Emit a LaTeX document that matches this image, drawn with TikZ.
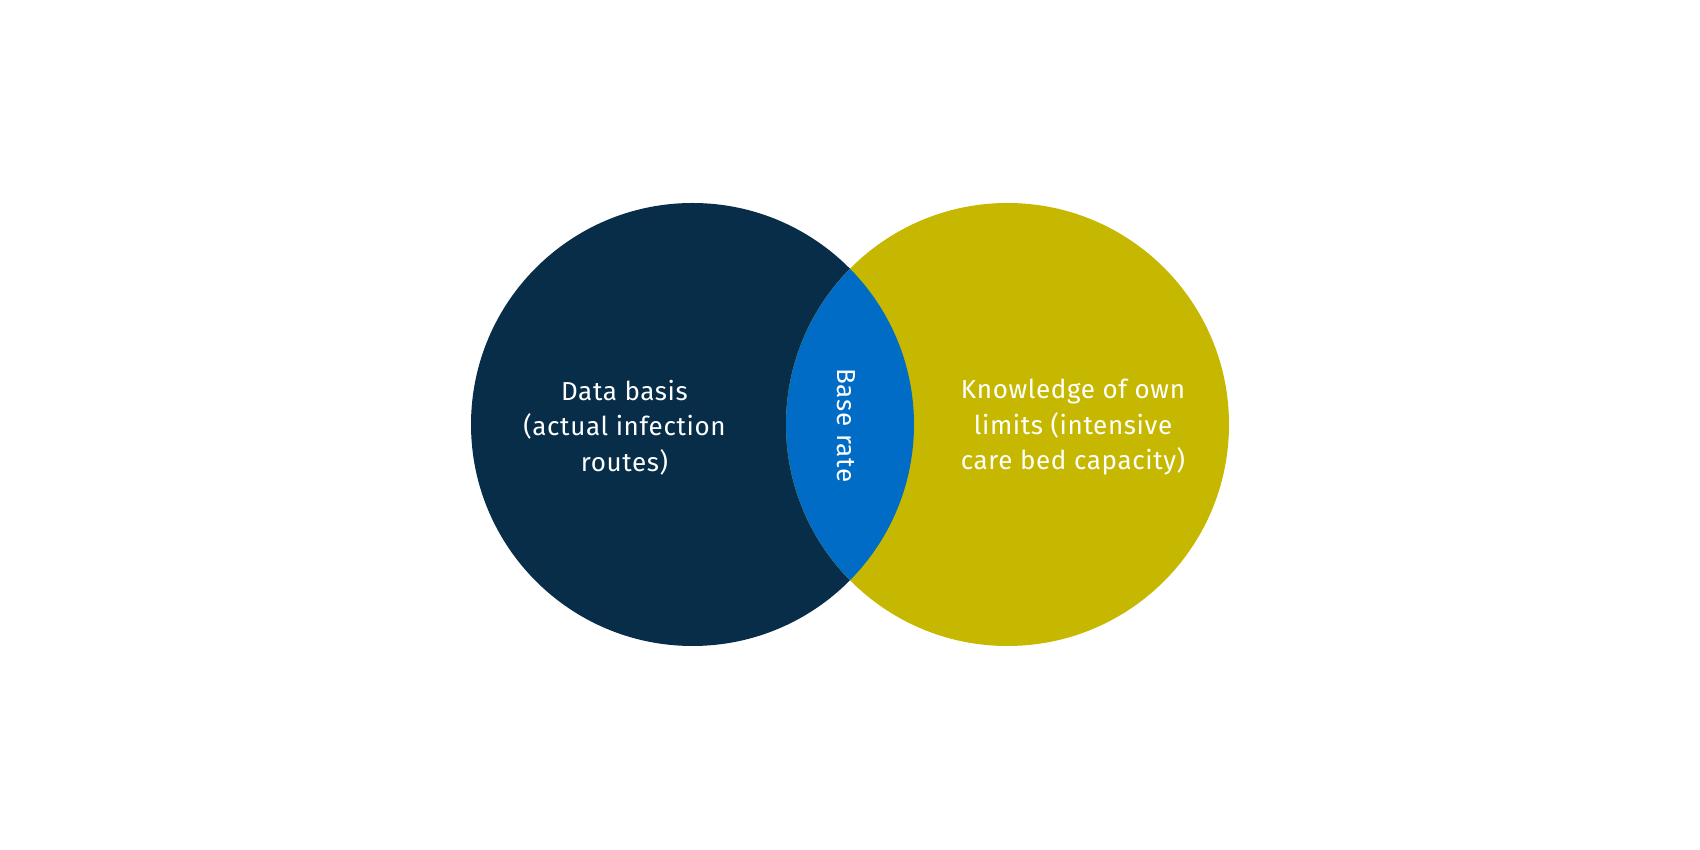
\documentclass[tikz,border=0pt]{standalone}
\usepackage{fontspec}
\setmainfont{Fira Sans}[LetterSpace=2.5]
\definecolor{navy}{RGB}{7,45,72}
\definecolor{olive}{RGB}{198,184,0}
\definecolor{lensblue}{RGB}{0,108,198}
\begin{document}
\begin{tikzpicture}[x=1pt,y=1pt,
  lbl/.style={text=white,font=\fontsize{26}{35.5}\selectfont,align=center,inner sep=0pt}]
\useasboundingbox (0,0) rectangle (1700,850);
\fill[white] (0,0) rectangle (1700,850);
\coordinate (cl) at (692.5,425.5);
\coordinate (cr) at (1007.5,425.5);
\fill[navy] (cl) circle[radius=221.5];
\fill[olive] (cr) circle[radius=221.5];
\begin{scope}
  \clip (cl) circle[radius=221.5];
  \fill[lensblue] (cr) circle[radius=221.5];
\end{scope}
\node[lbl] (data) at (624.5,422.5) {Data basis\\(actual infection\\routes)};
\node[lbl] (know) at (1073,422.5) {Knowledge of own\\limits (intensive\\care bed capacity)};
\node[lbl,rotate=-90] (base) at (846,424.5) {Base rate};
\end{tikzpicture}
\end{document}
